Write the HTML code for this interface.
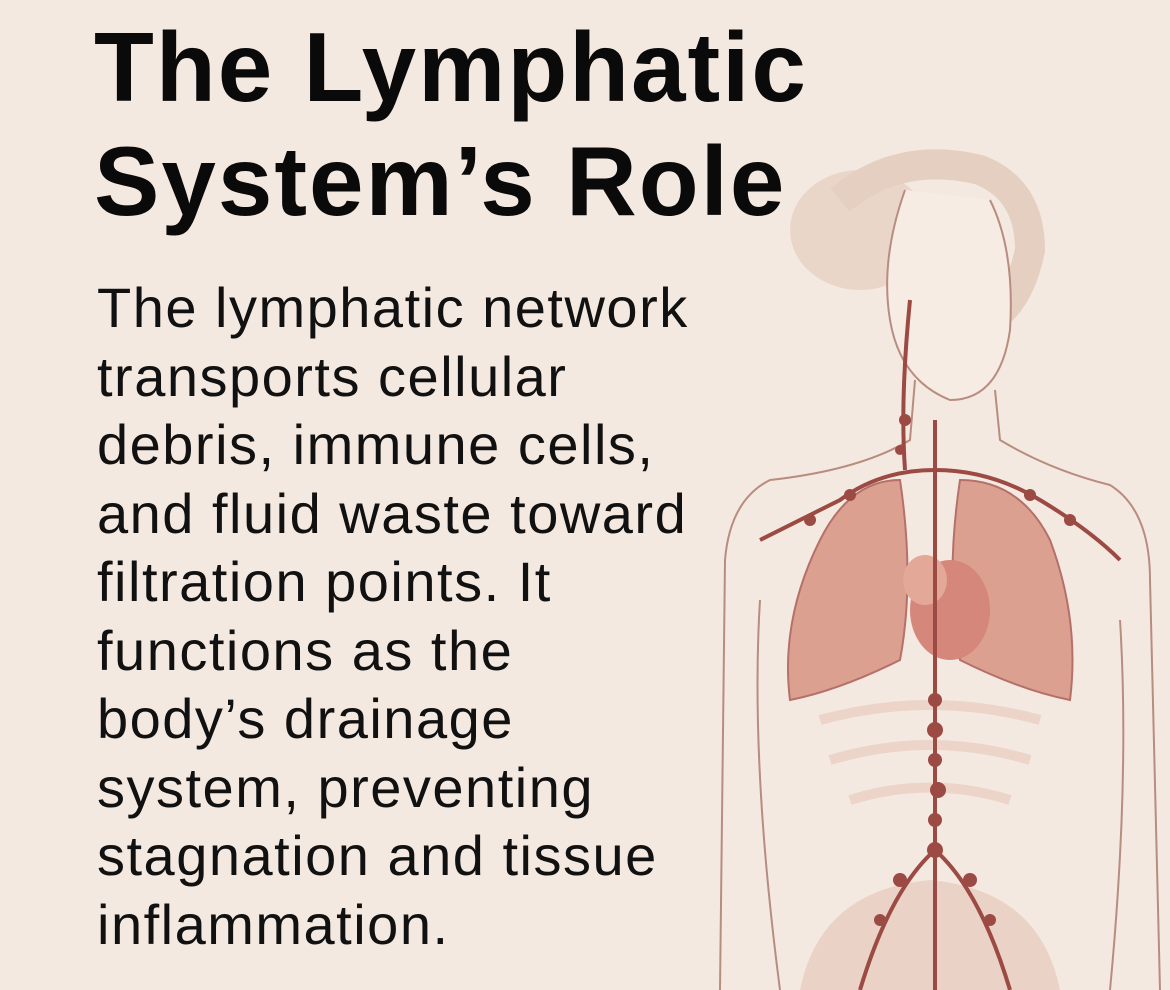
<!DOCTYPE html>
<html><head><meta charset="utf-8"><style>
html,body{margin:0;padding:0;}
body{width:1170px;height:990px;background:#f4e9e0;position:relative;overflow:hidden;font-family:"Liberation Sans",sans-serif;}
h1{position:absolute;left:94px;top:10px;margin:0;font-size:98px;line-height:114px;font-weight:bold;color:#0a0a0a;letter-spacing:2px;}
p{position:absolute;left:97px;top:274px;margin:0;font-size:56px;line-height:68.5px;color:#111;width:760px;letter-spacing:1.5px;}
svg{position:absolute;left:0;top:0;}
</style></head><body>
<svg width="1170" height="990" viewBox="0 0 1170 990">
<g fill="none" stroke="#b98c80" stroke-width="2">
<ellipse cx="860" cy="230" rx="70" ry="60" fill="#ead6c8" stroke="none"/>
<path d="M840 200 Q900 150 980 170 Q1030 190 1030 250 Q1020 300 990 320" stroke="#e5cfc0" stroke-width="30"/>
<path d="M905 190 Q880 260 890 320 Q900 380 950 400 Q1000 400 1010 330 Q1015 250 990 200" fill="#f6ece4"/>
<path d="M915 380 L910 440 Q860 470 770 480 Q730 500 725 560 L720 990"/>
<path d="M995 390 L1000 440 Q1050 470 1110 485 Q1150 510 1150 580 L1160 990"/>
<path d="M760 600 Q750 760 780 990"/>
<path d="M1120 620 Q1130 780 1110 990"/>
</g>
<g fill="none" stroke="#ecd4c8" stroke-width="10">
<path d="M820 720 Q930 690 1040 720"/><path d="M830 760 Q930 730 1030 760"/><path d="M850 800 Q930 775 1010 800"/>
</g>
<path d="M900 480 Q850 480 820 540 Q780 620 790 700 Q840 690 900 660 Q915 580 900 480Z" fill="#dca091" stroke="#b5706a" stroke-width="2"/>
<path d="M960 480 Q1020 480 1050 540 Q1080 620 1070 700 Q1020 690 960 660 Q945 580 960 480Z" fill="#dca091" stroke="#b5706a" stroke-width="2"/>
<ellipse cx="950" cy="610" rx="40" ry="50" fill="#d4877a"/>
<ellipse cx="925" cy="580" rx="22" ry="25" fill="#e3a898"/>
<path d="M800 990 Q820 890 930 880 Q1040 890 1060 990Z" fill="#ead3c6"/>
<g stroke="#9c4a44" stroke-width="4" fill="none">
<path d="M935 420 L935 990"/><path d="M935 470 Q880 470 840 500 Q800 520 760 540"/>
<path d="M935 470 Q990 470 1040 500 Q1090 530 1120 560"/>
<path d="M935 850 Q890 890 860 990"/><path d="M935 850 Q980 890 1010 990"/>
<path d="M910 300 Q900 400 905 470"/>
</g>
<g fill="#9c4a44">
<circle cx="935" cy="700" r="7"/><circle cx="935" cy="730" r="8"/><circle cx="935" cy="760" r="7"/><circle cx="938" cy="790" r="8"/>
<circle cx="935" cy="820" r="7"/><circle cx="935" cy="850" r="8"/><circle cx="900" cy="880" r="7"/><circle cx="970" cy="880" r="7"/>
<circle cx="880" cy="920" r="6"/><circle cx="990" cy="920" r="6"/><circle cx="850" cy="495" r="6"/><circle cx="1030" cy="495" r="6"/>
<circle cx="1070" cy="520" r="6"/><circle cx="810" cy="520" r="6"/><circle cx="905" cy="420" r="6"/><circle cx="900" cy="450" r="5"/>
</g>
</svg>
<h1>The Lymphatic<br>System’s Role</h1>
<p>The lymphatic network<br>transports cellular<br>debris, immune cells,<br>and fluid waste toward<br>filtration points. It<br>functions as the<br>body’s drainage<br>system, preventing<br>stagnation and tissue<br>inflammation.</p>
</body></html>
